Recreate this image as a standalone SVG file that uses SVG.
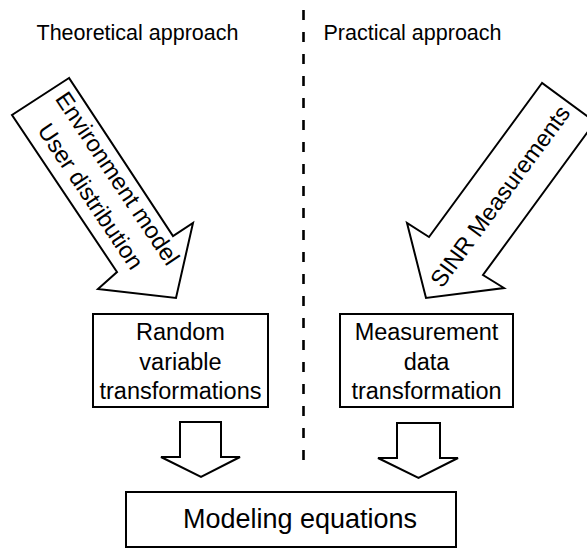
<svg xmlns="http://www.w3.org/2000/svg" width="587" height="548" viewBox="0 0 587 548">
  <style>
    .box { fill: #ffffff; stroke: #000000; stroke-width: 2; }
    .barrow { fill: #ffffff; stroke: #000000; stroke-width: 2; stroke-linejoin: miter; }
    .sep { stroke: #000000; stroke-width: 2.6; stroke-dasharray: 10 12; fill: none; }
    text { font-family: "Liberation Sans", Arial, sans-serif; fill: #000000; text-anchor: middle; }
    .title { font-size: 21.5px; }
    .lbl { font-size: 23.5px; }
    .big { font-size: 27px; }
  </style>
  <rect width="587" height="548" fill="#ffffff"/>

  <!-- column headings and divider -->
  <g id="headings">
    <text class="title" x="137.5" y="40">Theoretical approach</text>
    <text class="title" x="412.5" y="40">Practical approach</text>
    <line class="sep" x1="303.5" y1="10" x2="303.5" y2="462"/>
  </g>

  <g id="connectors">
    <!-- theoretical input arrow -->
    <g id="arrow-theory">
      <polygon class="barrow" points="69,78 12,115 117,272 98,289 176,298 193,223 173,236"/>
      <g transform="translate(102.2,188.7) rotate(56.2)">
        <text class="lbl" x="0" y="-10.4">Environment model</text>
        <text class="lbl" x="0" y="21.9">User distribution</text>
      </g>
    </g>
    <!-- practical input arrow -->
    <g id="arrow-practice">
      <polygon class="barrow" points="542,83 429,237 407,223 426,298 504,288 483,275 595,122"/>
      <g transform="translate(499.8,196) rotate(-53.7)">
        <text class="lbl" x="0" y="8.5">SINR Measurements</text>
      </g>
    </g>
    <!-- outputs into the equations box -->
    <polygon class="barrow" points="180,422 221,422 221,457 240,457 201,477 161,457 180,457"/>
    <polygon class="barrow" points="397,423 440,423 440,458 458,458 418.5,478 378,458 397,458"/>
  </g>

  <g id="random-variable">
    <rect class="box" x="93" y="314" width="175" height="93"/>
    <text class="lbl" x="180.5" y="340">Random</text>
    <text class="lbl" x="180.5" y="370">variable</text>
    <text class="lbl" x="180.5" y="399">transformations</text>
  </g>

  <g id="measurement-data">
    <rect class="box" x="340" y="314" width="173" height="93"/>
    <text class="lbl" x="426.5" y="340">Measurement</text>
    <text class="lbl" x="426.5" y="370">data</text>
    <text class="lbl" x="426.5" y="399">transformation</text>
  </g>

  <g id="modeling-equations">
    <rect class="box" x="126" y="492" width="330" height="55"/>
    <text class="big" x="300" y="528">Modeling equations</text>
  </g>
</svg>
